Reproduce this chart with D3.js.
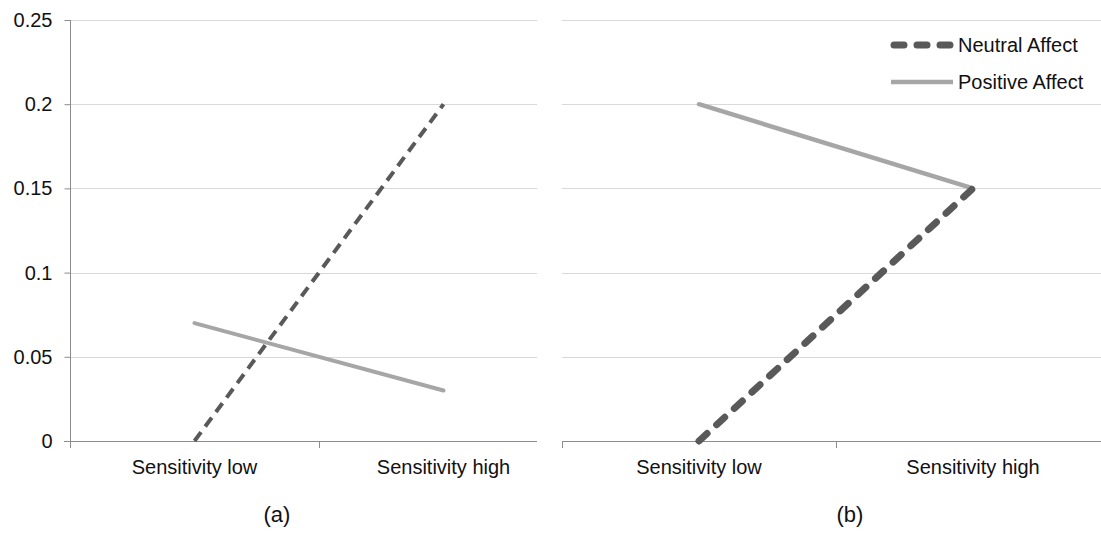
<!DOCTYPE html>
<html><head><meta charset="utf-8">
<script src="https://cdn.jsdelivr.net/npm/d3@7"></script>
<style>body{margin:0;background:#fff}svg{display:block;font-family:"Liberation Sans",Arial,sans-serif}</style>
</head><body><svg id="c" width="1101" height="534"></svg>
<script>
const categories = ["Sensitivity low", "Sensitivity high"];
const yTicks = [0, 0.05, 0.1, 0.15, 0.2, 0.25];
const yTickLabels = ["0", "0.05", "0.1", "0.15", "0.2", "0.25"];
const seriesNames = ["Neutral Affect", "Positive Affect"];
const panelA_neutral = [0, 0.2];
const panelA_positive = [0.07, 0.03];
const panelB_neutral = [0, 0.15];
const panelB_positive = [0.2, 0.15];
const panelLabels = ["(a)", "(b)"];

const svg = d3.select("#c");
const y = d3.scaleLinear().domain([0, 0.25]).range([441, 20]);
const gridCol = "#d9d9d9", axisCol = "#8c8c8c", textCol = "#111";
const darkCol = "#595959", lightCol = "#a6a6a6";
const fs = "20px";

const panels = [
  {x0: 70, x1: 568, clipR: 537, neutral: panelA_neutral, positive: panelA_positive, label: panelLabels[0], yAxis: true,
   nW: 4, nDash: "11,7", nCap: "butt", pW: 4, labelShift: -42},
  {x0: 562, x1: 1110, clipR: 1101, neutral: panelB_neutral, positive: panelB_positive, label: panelLabels[1], yAxis: false,
   nW: 7, nDash: "11,13", nCap: "round", pW: 4.5, labelShift: 14}
];

panels.forEach((p, i) => {
  const x = d3.scaleBand().domain(categories).range([p.x0, p.x1]);
  const g = svg.append("g");
  g.selectAll(".grid").data(yTicks.filter(t => t > 0)).join("line")
    .attr("x1", p.x0).attr("x2", p.clipR)
    .attr("y1", d => Math.round(y(d)) + 0.5).attr("y2", d => Math.round(y(d)) + 0.5)
    .attr("stroke", gridCol).attr("stroke-width", 1);
  if (p.yAxis) {
    const ya = d3.axisLeft(y).tickValues(yTicks).tickFormat((d, k) => yTickLabels[k]).tickSize(6).tickPadding(12);
    const ag = g.append("g").attr("transform", `translate(${p.x0 + 0.5},0)`).call(ya);
    ag.select(".domain").attr("stroke", axisCol).attr("d", `M0,${y(0.25)}V${y(0)}`);
    ag.selectAll(".tick line").attr("stroke", axisCol);
    ag.selectAll(".tick text").attr("fill", textCol).style("font-size", fs).style("font-family", '"Liberation Sans",Arial,sans-serif');
  }
  g.append("line").attr("x1", p.yAxis ? p.x0 - 6 : p.x0).attr("x2", p.clipR)
    .attr("y1", 441.5).attr("y2", 441.5).attr("stroke", axisCol);
  const bounds = [p.x0, p.x0 + x.bandwidth()];
  g.selectAll(".xt").data(bounds).join("line")
    .attr("x1", d => Math.round(d) + 0.5).attr("x2", d => Math.round(d) + 0.5)
    .attr("y1", 441).attr("y2", 448).attr("stroke", axisCol);
  g.selectAll(".xl").data(categories).join("text")
    .attr("x", d => x(d) + x.bandwidth() / 2).attr("y", 474)
    .attr("text-anchor", "middle").attr("fill", textCol).style("font-size", fs).text(d => d);
  g.append("text").attr("x", (p.x0 + p.x1) / 2 + p.labelShift).attr("y", 522)
    .attr("text-anchor", "middle").attr("fill", textCol).style("font-size", "22px").text(p.label);

  const line = d3.line().x((d, k) => x(categories[k]) + x.bandwidth() / 2).y(d => y(d));
  g.append("path").attr("d", line(p.positive)).attr("fill", "none")
    .attr("stroke", lightCol).attr("stroke-width", p.pW).attr("stroke-linecap", "round");
  g.append("path").attr("d", line(p.neutral)).attr("fill", "none")
    .attr("stroke", darkCol).attr("stroke-width", p.nW).attr("stroke-dasharray", p.nDash).attr("stroke-linecap", p.nCap);
});

const lg = svg.append("g");
const legendItems = [
  {name: seriesNames[0], y: 45, col: darkCol, w: 7, dash: "10,13", cap: "round", x1: 894, x2: 951},
  {name: seriesNames[1], y: 82, col: lightCol, w: 4.5, dash: null, cap: "butt", x1: 891, x2: 953}
];
legendItems.forEach(it => {
  lg.append("line").attr("x1", it.x1).attr("x2", it.x2)
    .attr("y1", it.y).attr("y2", it.y).attr("stroke", it.col).attr("stroke-width", it.w)
    .attr("stroke-dasharray", it.dash).attr("stroke-linecap", it.cap);
  lg.append("text").attr("x", 958).attr("y", it.y + 7).attr("fill", textCol).style("font-size", fs).text(it.name);
});
</script></body></html>
